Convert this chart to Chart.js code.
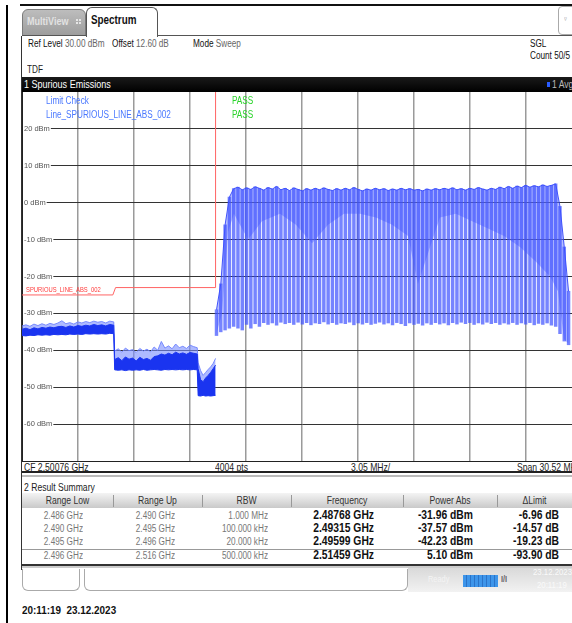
<!DOCTYPE html>
<html>
<head>
<meta charset="utf-8">
<script src="https://cdn.jsdelivr.net/npm/chart.js@4.4.0/dist/chart.umd.min.js"></script>
<style>
  html, body { margin: 0; padding: 0; background: #fff; }
  body {
    width: 572px; height: 623px; overflow: hidden; position: relative;
    font-family: "Liberation Sans", Arial, sans-serif;
    color: #222;
  }
  .a { position: absolute; white-space: nowrap; transform: scaleX(0.82); transform-origin: 0 50%; }
  .line { position: absolute; }
  #plot { position: absolute; left: 22px; top: 92px; width: 560px; height: 369px; }
  .tab { position: absolute; border-radius: 6px 6px 0 0; box-sizing: border-box; }
  .hdr { position: absolute; top: 493px; height: 15px; line-height: 15px; font-size: 10.5px; color: #333;
         text-align: center; transform: scaleX(0.82); transform-origin: 50% 50%; }
  .sep { position: absolute; top: 495px; width: 1px; height: 12px; background: #999; }
  .cell { position: absolute; font-size: 10px; color: #777; text-align: right; line-height: 13px;
          white-space: nowrap; transform: scaleX(0.82); transform-origin: 100% 50%; }
  .bold { font-size: 12px; font-weight: bold; color: #111; transform: scaleX(0.86); }
</style>
</head>
<body>
<!-- outer frame -->
<div class="line" style="left:6px;top:5px;width:2px;height:618px;background:#000"></div>
<div class="line" style="left:20px;top:4px;width:552px;height:2px;background:#111"></div>
<div class="line" style="left:21px;top:36px;width:1px;height:534px;background:#333"></div>

<!-- tabs -->
<div class="tab" style="left:22px;top:9px;width:64px;height:27px;background:linear-gradient(#bdbdbd,#9d9d9d);border:1px solid #7a7a7a"></div>
<div class="a" style="left:27px;top:15px;font-size:11px;font-weight:bold;color:#e2e2e2">MultiView</div>
<div class="line" style="left:76px;top:19px;width:2px;height:2px;background:#e6e6e6"></div>
<div class="line" style="left:79px;top:19px;width:2px;height:2px;background:#e6e6e6"></div>
<div class="line" style="left:76px;top:22px;width:2px;height:2px;background:#e6e6e6"></div>
<div class="line" style="left:79px;top:22px;width:2px;height:2px;background:#e6e6e6"></div>
<div class="tab" style="left:86px;top:7px;width:72px;height:30px;background:#fff;border:1px solid #555;border-bottom:none"></div>
<div class="a" style="left:91px;top:13px;font-size:12px;font-weight:bold;color:#111">Spectrum</div>
<div class="line" style="left:158px;top:35px;width:414px;height:1px;background:#555"></div>
<div class="line" style="left:22px;top:35px;width:64px;height:1px;background:#555"></div>
<div class="tab" style="left:558px;top:6px;width:18px;height:29px;border:1px solid #aaa;border-radius:4px"></div>
<div class="a" style="left:564px;top:15px;font-size:7px;color:#999">&#9663;</div>

<!-- settings row -->
<div class="a" style="left:28px;top:38px;font-size:10px;color:#111">Ref Level <span style="color:#666">30.00 dBm</span></div>
<div class="a" style="left:112px;top:38px;font-size:10px;color:#111">Offset <span style="color:#666">12.60 dB</span></div>
<div class="a" style="left:193px;top:38px;font-size:10px;color:#111">Mode <span style="color:#666">Sweep</span></div>
<div class="a" style="left:530px;top:38px;font-size:10px;color:#111">SGL</div>
<div class="a" style="left:530px;top:50px;font-size:10px;color:#111">Count 50/5</div>
<div class="a" style="left:27px;top:64px;font-size:10px;color:#222">TDF</div>

<!-- title bar -->
<div class="line" style="left:22px;top:77px;width:550px;height:15px;background:linear-gradient(#1a1a1a,#000)"></div>
<div class="a" style="left:24px;top:78px;font-size:11px;color:#fff">1 Spurious Emissions</div>
<div class="line" style="left:547px;top:82px;width:3px;height:5px;background:#2a5cff"></div>
<div class="a" style="left:552px;top:78px;font-size:10.5px;color:#bbb">1 Avg</div>

<div id="plot"><canvas id="spectrum" width="560" height="369"></canvas></div>

<!-- in-plot texts -->
<div class="a" style="left:46px;top:95px;font-size:10px;color:#4a78ff">Limit Check</div>
<div class="a" style="left:46px;top:109px;font-size:10px;color:#4a78ff">Line_SPURIOUS_LINE_ABS_002</div>
<div class="a" style="left:232px;top:95px;font-size:10px;color:#2ad42a">PASS</div>
<div class="a" style="left:232px;top:109px;font-size:10px;color:#2ad42a">PASS</div>
<div class="a" style="left:26px;top:285px;font-size:7.5px;color:#ff3b3b;transform:scaleX(0.78)">SPURIOUS_LINE_ABS_002</div>

<!-- bottom row of diagram -->
<div class="line" style="left:22px;top:461px;width:550px;height:1px;background:#222"></div>
<div class="a" style="left:24px;top:461px;font-size:10.5px;color:#222">CF 2.50076 GHz</div>
<div class="a" style="left:215px;top:461px;font-size:10.5px;color:#222">4004 pts</div>
<div class="a" style="left:351px;top:461px;font-size:10.5px;color:#222">3.05 MHz/</div>
<div class="a" style="left:517px;top:461px;font-size:10.5px;color:#222">Span 30.52 MHz</div>
<div class="line" style="left:22px;top:471px;width:550px;height:2px;background:#222"></div>
<div class="line" style="left:22px;top:475px;width:550px;height:2px;background:#bbb"></div>

<!-- result summary -->
<div class="a" style="left:24px;top:481px;font-size:10.5px;color:#222">2 Result Summary</div>
<div class="line" style="left:22px;top:493px;width:550px;height:15px;background:linear-gradient(#f4f4f4,#c9c9c9)"></div>
<div class="hdr" style="left:22px;width:91px">Range Low</div>
<div class="hdr" style="left:113px;width:89px">Range Up</div>
<div class="hdr" style="left:202px;width:89px">RBW</div>
<div class="hdr" style="left:291px;width:112px">Frequency</div>
<div class="hdr" style="left:403px;width:94px">Power Abs</div>
<div class="hdr" style="left:497px;width:75px">&Delta;Limit</div>
<div class="sep" style="left:113px"></div>
<div class="sep" style="left:202px"></div>
<div class="sep" style="left:291px"></div>
<div class="sep" style="left:403px"></div>
<div class="sep" style="left:497px"></div>
<div id="rows"></div>
<div class="line" style="left:22px;top:549px;width:550px;height:1px;background:#999"></div>
<div class="line" style="left:22px;top:564px;width:550px;height:2px;background:#333"></div>
<div class="line" style="left:22px;top:566px;width:550px;height:2px;background:#ccc"></div>

<!-- status bar -->
<div class="line" style="left:22px;top:569px;width:58px;height:22px;border:1px solid #aaa;border-top:none;border-radius:0 0 6px 6px;box-sizing:border-box"></div>
<div class="line" style="left:84px;top:569px;width:324px;height:22px;border:1px solid #aaa;border-top:none;border-radius:0 0 6px 6px;box-sizing:border-box"></div>
<div class="line" style="left:408px;top:568px;width:164px;height:24px;background:linear-gradient(#d9d9d9,#f2f2f2)"></div>
<div class="a" style="left:428px;top:574px;font-size:9px;color:#f4f4f4">Ready</div>
<div class="line" style="left:463px;top:575px;width:35px;height:12px;background:repeating-linear-gradient(90deg,#3d95ea 0 3px,#2a73c8 3px 4px)"></div>
<div class="a" style="left:501px;top:574px;font-size:9px;font-weight:bold;color:#666">I/I</div>
<div class="a" style="left:533px;top:566px;font-size:9.5px;color:#fafafa">23.12.2023</div>
<div class="a" style="left:537px;top:579px;font-size:9.5px;color:#fafafa">20:11:19</div>

<div class="a" style="left:22px;top:604px;font-size:11px;font-weight:bold;color:#111;transform:scaleX(0.9)">20:11:19&nbsp;&nbsp;23.12.2023</div>

<script>
// ---- sweep / axes ----
const startMHz = 2485.5;
const stopMHz = 2516.02;
const gridMHz = [2485.5, 2488.552, 2491.604, 2494.656, 2497.708, 2500.76,
                 2503.812, 2506.864, 2509.916, 2512.968, 2516.02];

// ---- low level part of the trace (three sub ranges), dBm ----
const seg1Range = [2485.5, 2490.5];
const seg1Peak = [-33.4, -33.1, -33.5, -32.9, -33.3, -32.8, -33.2, -32.7, -33.0, -32.6, -32.0, -32.8,
                  -32.5, -32.9, -32.3, -32.6, -32.2, -32.5, -32.1, -32.4, -32.2, -32.6, -32.1, -32.3];
const seg1Core = [-34.3, -34.0, -34.4, -33.9, -34.2, -33.8, -34.0, -33.7, -33.9, -33.6, -33.5, -33.8,
                  -33.4, -33.7, -33.3, -33.5, -33.2, -33.4, -33.0, -33.3, -33.1, -33.4, -33.0, -33.2];
const seg1Floor = [-36.0, -36.1, -35.9, -36.0, -35.8, -35.9, -35.8, -35.9, -35.7, -35.8, -35.7, -35.8,
                   -35.6, -35.7, -35.6, -35.7, -35.5, -35.6, -35.5, -35.6, -35.5, -35.6, -35.4, -35.5];

const seg2Range = [2490.55, 2495.05];
const seg2Peak = [-40.2, -39.6, -40.5, -39.4, -40.1, -39.8, -40.6, -39.5, -40.2, -39.7, -40.4, -39.1,
                  -40.0, -37.6, -39.4, -38.8, -39.6, -38.3, -39.3, -38.9, -39.5, -38.6, -39.0, -39.3];
const seg2Core = [-42.5, -42.0, -42.8, -41.8, -42.4, -42.1, -42.9, -41.9, -42.5, -42.2, -42.7, -41.7,
                  -41.5, -41.0, -41.3, -40.8, -41.2, -40.5, -41.0, -40.7, -41.1, -40.6, -40.8, -41.0];
const seg2Floor = [-45.3, -45.4, -45.3, -45.5, -45.3, -45.4, -45.3, -45.4, -45.2, -45.4, -45.3, -45.2,
                   -45.3, -45.4, -45.2, -45.3, -45.2, -45.3, -45.2, -45.3, -45.2, -45.3, -45.2, -45.3];

const seg3Range = [2495.1, 2496.05];
const seg3Peak = [-43.4, -45.5, -46.8, -46.0, -45.2, -44.5, -43.6, -42.2];
const seg3Core = [-45.0, -48.0, -48.5, -47.5, -46.8, -46.0, -45.0, -44.0];
const seg3Floor = [-52.3, -52.4, -52.2, -52.4, -52.3, -52.4, -52.3, -52.2];

// ---- burst comb in the band, one entry per line, dBm ----
const combStartMHz = 2496.1;
const combStepMHz = 0.234;
const combTop = [-29, -22, -6, 1.5, 3.8, 4.2, 3.5, 4.0, 3.6, 4.3, 3.9, 3.4, 4.1, 3.7, 4.4, 3.5, 3.9,
  3.3, 4.0, 3.6, 3.2, 3.8, 3.4, 3.9, 3.5, 4.0, 3.6, 3.3, 3.8, 3.4, 3.9, 3.5, 4.1, 3.6, 3.2, 3.7, 3.4,
  3.9, 3.5, 3.8, 3.3, 3.7, 3.4, 3.9, 3.5, 3.8, 3.4, 3.6, 3.2, 3.7, 3.4, 3.8, 3.5, 3.9, 3.6, 4.0, 3.5,
  3.8, 3.4, 3.9, 3.6, 4.1, 3.7, 3.4, 3.9, 3.6, 4.2, 3.8, 4.4, 3.9, 4.5, 4.1, 4.7, 4.2, 4.6, 4.3, 4.8,
  4.4, 4.7, 5.1, -1.0, -12, -24];
const combBottom = [-36, -35, -34.5, -34, -33.5, -34, -34.5, -33, -34, -32.8, -33.5, -32.5, -33, -32.6,
  -33.2, -32.4, -32.8, -32.5, -33.0, -32.4, -32.9, -32.5, -33.1, -32.6, -32.8, -32.3, -32.9, -32.5,
  -33.0, -32.6, -32.8, -32.4, -33.1, -32.6, -32.9, -32.5, -33.0, -32.7, -32.4, -32.9, -32.6, -33.1,
  -32.5, -32.8, -33.3, -32.6, -33.0, -32.7, -33.2, -32.6, -33.0, -32.5, -32.9, -32.6, -33.1, -32.5,
  -32.9, -32.4, -32.8, -32.5, -33.0, -32.6, -32.9, -32.4, -32.8, -32.5, -33.0, -32.6, -32.9, -32.5,
  -33.0, -32.6, -32.9, -32.5, -33.1, -32.7, -33.0, -32.6, -33.2, -33.5, -35.5, -37.5, -38.5];

// lower edge of the dense (filled) part of the band, dBm
const fillMHz = [2496.07, 2496.4, 2496.73, 2497.05, 2497.82, 2498.58, 2499.56, 2500.43, 2501.31,
  2502.18, 2503.05, 2503.92, 2504.79, 2505.67, 2506.54, 2507.08, 2507.74, 2508.28, 2509.15, 2510.03,
  2510.9, 2511.77, 2512.64, 2513.51, 2514.28, 2514.71, 2515.04, 2515.47, 2516.02];
const fillLow = [-36, -30, -8, -3, -10, -5, -3, -6, -11, -6, -3, -3, -4, -6, -9, -22, -12, -4, -3,
  -5, -7, -9, -12, -16, -20, -24, -37, -39, -40];

// ---- limit line SPURIOUS_LINE_ABS_002 ----
const limitMHz = [2485.5, 2490.45, 2490.6, 2496.05, 2496.05];
const limitDbm = [-25, -25, -23, -23, 30];

// ---- result summary table ----
const rangeLow = ["2.486 GHz", "2.490 GHz", "2.495 GHz", "2.496 GHz"];
const rangeUp = ["2.490 GHz", "2.495 GHz", "2.496 GHz", "2.516 GHz"];
const rbw = ["1.000 MHz", "100.000 kHz", "20.000 kHz", "500.000 kHz"];
const peakFreq = ["2.48768 GHz", "2.49315 GHz", "2.49599 GHz", "2.51459 GHz"];
const powerAbs = ["-31.96 dBm", "-37.57 dBm", "-42.23 dBm", "5.10 dBm"];
const deltaLimit = ["-6.96 dB", "-14.57 dB", "-19.23 dB", "-93.90 dB"];

const rowTops = [509, 522, 535, 549];
const cols = [
  { vals: rangeLow, right: 83, bold: false },
  { vals: rangeUp, right: 175, bold: false },
  { vals: rbw, right: 268, bold: false },
  { vals: peakFreq, right: 374, bold: true },
  { vals: powerAbs, right: 473, bold: true },
  { vals: deltaLimit, right: 559, bold: true }
];
const rowsEl = document.getElementById("rows");
cols.forEach(c => {
  c.vals.forEach((v, r) => {
    const d = document.createElement("div");
    d.className = "cell" + (c.bold ? " bold" : "");
    d.style.left = (c.right - 120) + "px";
    d.style.width = "120px";
    d.style.top = rowTops[r] + "px";
    d.textContent = v;
    rowsEl.appendChild(d);
  });
});

// ---- build chart points ----
function spread(range, vals) {
  return vals.map((v, i) => ({ x: range[0] + (range[1] - range[0]) * i / (vals.length - 1), y: v }));
}
const lowPeak = [].concat(spread(seg1Range, seg1Peak), spread(seg2Range, seg2Peak), spread(seg3Range, seg3Peak));
const lowCore = [].concat(spread(seg1Range, seg1Core), spread(seg2Range, seg2Core), spread(seg3Range, seg3Core));
const lowFloor = [].concat(spread(seg1Range, seg1Floor), spread(seg2Range, seg2Floor), spread(seg3Range, seg3Floor));
const combPts = combTop.map((t, i) => ({ x: combStartMHz + i * combStepMHz, y: [combBottom[i], t] }));
const envTop = combTop.map((t, i) => ({ x: combStartMHz + i * combStepMHz, y: t }));
const envLow = fillMHz.map((f, i) => ({ x: f, y: fillLow[i] }));
const limitPts = limitMHz.map((f, i) => ({ x: f, y: limitDbm[i] }));

Chart.defaults.font.family = '"Liberation Sans", Arial, sans-serif';

const spectrumCtx = document.getElementById("spectrum").getContext("2d");
const spectrumChart = new Chart(spectrumCtx, {
  type: "line",
  data: {
    datasets: [
      { // 0 dense part of the band
        data: envTop, fill: 1, order: 5,
        borderColor: "rgba(40,60,250,0.85)", borderWidth: 1,
        backgroundColor: "rgba(110,125,255,0.5)", pointRadius: 0
      },
      { // 1 lower edge of dense part
        data: envLow, fill: false, order: 6, borderWidth: 0, pointRadius: 0
      },
      { // 2 low level peaks
        data: lowPeak, fill: 4, order: 4,
        borderColor: "rgba(110,130,255,0.9)", borderWidth: 1,
        backgroundColor: "rgba(120,140,255,0.6)", pointRadius: 0
      },
      { // 3 low level core
        data: lowCore, fill: 4, order: 3,
        borderColor: "#1a34f0", borderWidth: 1,
        backgroundColor: "#1a34f0", pointRadius: 0
      },
      { // 4 floor
        data: lowFloor, fill: false, order: 3,
        borderColor: "#1a34f0", borderWidth: 1, pointRadius: 0
      },
      { // 5 comb lines
        type: "bar", data: combPts, order: 2, grouped: false,
        barThickness: 2.8, backgroundColor: "rgba(60,80,255,0.7)"
      },
      { // 6 limit line
        data: limitPts, fill: false, order: 1,
        borderColor: "#ff6464", borderWidth: 1, pointRadius: 0, tension: 0
      }
    ]
  },
  options: {
    responsive: false,
    maintainAspectRatio: false,
    animation: false,
    events: [],
    layout: { padding: 0 },
    plugins: { legend: { display: false }, tooltip: { enabled: false } },
    scales: {
      x: {
        type: "linear", min: startMHz, max: stopMHz, offset: false,
        afterBuildTicks: (scale) => { scale.ticks = gridMHz.map(v => ({ value: v })); },
        afterFit: (scale) => { scale.height = 0; scale.paddingLeft = 0; scale.paddingRight = 0; },
        ticks: { display: false },
        grid: { color: "#9a9a9a", lineWidth: 1.5, drawTicks: false, offset: false },
        border: { display: false }
      },
      y: {
        min: -70, max: 30,
        afterFit: (scale) => { scale.width = 0; scale.paddingTop = 0; scale.paddingBottom = 0; },
        ticks: {
          stepSize: 10, mirror: true, padding: 2,
          color: "#555", font: { size: 7.5 },
          showLabelBackdrop: true, backdropColor: "#fff",
          backdropPadding: { top: 0, bottom: 0, left: 1, right: 1 },
          callback: (v) => (v === 30 || v === -70) ? null : v + " dBm"
        },
        grid: { color: "#333", lineWidth: 1, drawTicks: false },
        border: { color: "#222", width: 1 }
      }
    }
  }
});
</script>
</body>
</html>
